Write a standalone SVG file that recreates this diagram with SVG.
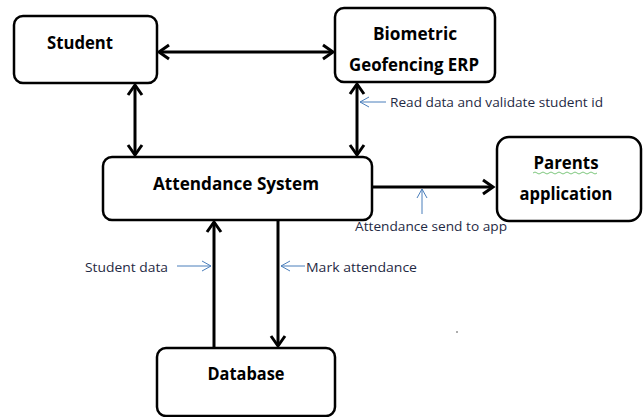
<svg xmlns="http://www.w3.org/2000/svg" width="644" height="417" viewBox="0 0 644 417">
<defs>
<marker id="ah" markerUnits="userSpaceOnUse" markerWidth="20" markerHeight="20" viewBox="-12 -10 14 20" refX="0" refY="0" orient="auto-start-reverse">
<path d="M -10 -7 L 0 0 L -10 7" fill="none" stroke="#000" stroke-width="3" stroke-linejoin="miter"/>
</marker>
<marker id="bh" markerUnits="userSpaceOnUse" markerWidth="14" markerHeight="14" viewBox="-10 -7 12 14" refX="0" refY="0" orient="auto">
<path d="M -9 -5 L 0 0 L -9 5" fill="none" stroke="#4a7ebb" stroke-width="1"/>
</marker>
<style>
.box{fill:#fff;stroke:#000;stroke-width:2.5}
.lbl{font-family:"Open Sans","Liberation Sans",sans-serif;font-weight:bold;font-size:17px;fill:#000;text-anchor:middle}
.con{stroke:#000;stroke-width:3;fill:none}
.ann{stroke:#4a7ebb;stroke-width:1;fill:none}
.note{font-family:"Open Sans","Liberation Sans",sans-serif;font-size:13px;fill:#1f2a44}
</style>
</defs>
<rect width="644" height="417" fill="#fff"/>
<g id="connectors">
<line class="con" x1="159" y1="52" x2="333" y2="52" marker-start="url(#ah)" marker-end="url(#ah)"/>
<line class="con" x1="135" y1="85" x2="135" y2="155" marker-start="url(#ah)" marker-end="url(#ah)"/>
<line class="con" x1="357" y1="84" x2="357" y2="155" marker-start="url(#ah)" marker-end="url(#ah)"/>
<line class="con" x1="373" y1="187" x2="493" y2="187" marker-end="url(#ah)"/>
<line class="con" x1="214" y1="348" x2="214" y2="222" marker-end="url(#ah)"/>
<line class="con" x1="278" y1="220" x2="278" y2="346" marker-end="url(#ah)"/>
</g>
<g id="annotations">
<line class="ann" x1="386" y1="102" x2="360" y2="102" marker-end="url(#bh)"/>
<text class="note" x="390" y="107" textLength="213" lengthAdjust="spacingAndGlyphs">Read data and validate student id</text>
<line class="ann" x1="422" y1="214" x2="422" y2="189" marker-end="url(#bh)"/>
<text class="note" x="355" y="231" textLength="152" lengthAdjust="spacingAndGlyphs">Attendance send to app</text>
<line class="ann" x1="177" y1="266" x2="211" y2="266" marker-end="url(#bh)"/>
<text class="note" x="85" y="272" textLength="83" lengthAdjust="spacingAndGlyphs">Student data</text>
<line class="ann" x1="305" y1="266" x2="281" y2="266" marker-end="url(#bh)"/>
<text class="note" x="306" y="272" textLength="111" lengthAdjust="spacingAndGlyphs">Mark attendance</text>
<circle cx="366" cy="204" r="0.8" fill="#444"/>
<circle cx="457" cy="332" r="0.8" fill="#444"/>
</g>
<g id="student">
<rect class="box" x="14" y="16" width="143" height="67" rx="9"/>
<text class="lbl" x="80" y="49" textLength="66" lengthAdjust="spacingAndGlyphs">Student</text>
</g>
<g id="biometric">
<rect class="box" x="335" y="8" width="160" height="74" rx="9"/>
<text class="lbl" x="415" y="40" textLength="84" lengthAdjust="spacingAndGlyphs">Biometric</text>
<text class="lbl" x="414" y="71" textLength="130" lengthAdjust="spacingAndGlyphs">Geofencing ERP</text>
</g>
<g id="attendance">
<rect class="box" x="103" y="157" width="269" height="63" rx="9"/>
<text class="lbl" x="236" y="190" textLength="166" lengthAdjust="spacingAndGlyphs">Attendance System</text>
</g>
<g id="parents">
<rect class="box" x="497" y="137" width="144" height="84" rx="12"/>
<text class="lbl" x="566" y="169" textLength="65" lengthAdjust="spacingAndGlyphs">Parents</text>
<path d="M 533 173 q 2 -2 4 0 t 4 0 t 4 0 t 4 0 t 4 0 t 4 0 t 4 0 t 4 0 t 4 0 t 4 0 t 4 0 t 4 0 t 4 0 t 4 0 t 4 0 t 4 0" fill="none" stroke="#5cb85c" stroke-width="0.8"/>
<text class="lbl" x="566" y="200" textLength="93" lengthAdjust="spacingAndGlyphs">application</text>
</g>
<g id="database">
<rect class="box" x="157" y="348" width="178" height="68" rx="9"/>
<text class="lbl" x="246" y="380" textLength="77" lengthAdjust="spacingAndGlyphs">Database</text>
</g>
</svg>
